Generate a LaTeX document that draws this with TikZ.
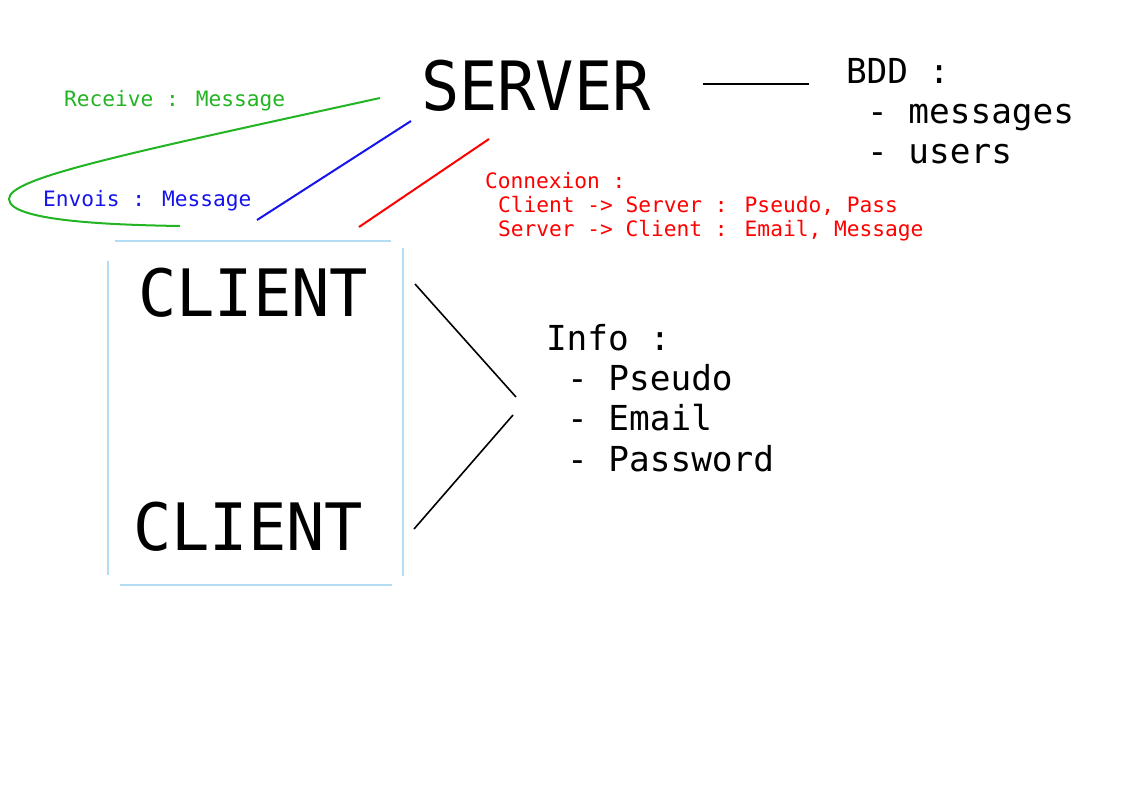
\documentclass[tikz,border=0pt]{standalone}
\usepackage{fontspec}
\setmainfont{DejaVu Sans Mono}
\newfontfamily\servfont[FakeStretch=0.935]{DejaVu Sans Mono}
\newfontfamily\clifont[FakeStretch=0.975]{DejaVu Sans Mono}
\definecolor{mygreen}{RGB}{34,180,34}
\definecolor{myblue}{RGB}{20,20,235}
\definecolor{myred}{RGB}{255,0,0}
\definecolor{boxblue}{RGB}{180,220,245}
\begin{document}
\begin{tikzpicture}[x=0.75pt,y=-0.75pt,
  txt/.style={anchor=base west, inner sep=0pt, outer sep=0pt},
  big/.style={txt, font=\servfont\fontsize{51}{60}\selectfont},
  cli/.style={txt, font=\clifont\fontsize{49}{58}\selectfont},
  mid/.style={txt, font=\fontsize{25.8}{30}\selectfont},
  small/.style={txt, font=\fontsize{15.9}{18}\selectfont},
  blackline/.style={line width=1.2pt, black},
  greenline/.style={line width=1.5pt, mygreen},
  blueline/.style={line width=1.5pt, myblue},
  redline/.style={line width=1.5pt, myred},
  boxline/.style={line width=1.5pt, boxblue}]
\useasboundingbox (0,0) rectangle (1123,794);

% texts
\node[big] (server) at (421,110) {SERVER};
\node[cli] (client1) at (138,316) {CLIENT};
\node[cli] (client2) at (133,550) {CLIENT};

\node[mid] (bdd0) at (846,83) {BDD :};
\node[mid] (bdd1) at (867,123) {- messages};
\node[mid] (bdd2) at (867,163) {- users};

\node[mid] (info0) at (546,350) {Info :};
\node[mid] (info1) at (567,390) {- Pseudo};
\node[mid] (info2) at (567,430) {- Email};
\node[mid] (info3) at (567,471) {- Password};

\node[small, text=mygreen] (recv) at (64,106) {Receive : Message};
\node[small, text=myblue] (envois) at (43,206) {Envois : Message};
\node[small, text=myred] (conn0) at (485,188) {Connexion :};
\node[small, text=myred] (conn1) at (498,212) {Client -> Server : Pseudo, Pass};
\node[small, text=myred] (conn2) at (498,236) {Server -> Client : Email, Message};

% connector end points
\coordinate (srvR) at (703,84);
\coordinate (bddL) at (809,84);
\coordinate (gA) at (380,98);
\coordinate (gL) at (9,199);
\coordinate (gB) at (180,226);
\coordinate (bA) at (411,121);
\coordinate (bB) at (257,220);
\coordinate (rA) at (489,139);
\coordinate (rB) at (359,227);
\coordinate (c1R) at (415,284);
\coordinate (infoA) at (516,397);
\coordinate (infoB) at (513,415);
\coordinate (c2R) at (414,529);

% box sides
\coordinate (bxT1) at (115,241); \coordinate (bxT2) at (391,241);
\coordinate (bxL1) at (108,261); \coordinate (bxL2) at (108,575);
\coordinate (bxR1) at (403,248); \coordinate (bxR2) at (403,576);
\coordinate (bxB1) at (120,585); \coordinate (bxB2) at (392,585);

\draw[blackline] (srvR) -- (bddL);
\draw[greenline] (gA) .. controls (120,155) and (9,178) .. (gL)
                      .. controls (9,222) and (120,225) .. (gB);
\draw[blueline] (bA) -- (bB);
\draw[redline] (rA) -- (rB);
\draw[blackline] (c1R) -- (infoA);
\draw[blackline] (infoB) -- (c2R);

\draw[boxline] (bxT1) -- (bxT2);
\draw[boxline] (bxL1) -- (bxL2);
\draw[boxline] (bxR1) -- (bxR2);
\draw[boxline] (bxB1) -- (bxB2);
\end{tikzpicture}
\end{document}
